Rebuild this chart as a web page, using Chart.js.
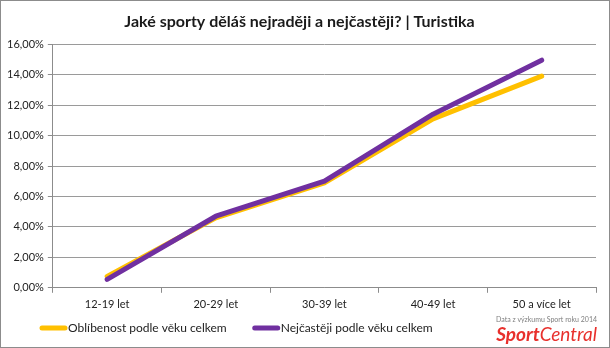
<!DOCTYPE html>
<html lang="cs">
<head>
    <meta charset="UTF-8">
    <title>Turistika</title>
    <script src="https://cdn.jsdelivr.net/npm/chart.js"></script>
    <style>
        html, body { margin: 0; padding: 0; background: #fff; }
        .frame {
            width: 610px;
            height: 348px;
            box-sizing: border-box;
            border: 1px solid #8c8c8c;
            position: relative;
        }
        #chart { display: block; }
    </style>
</head>
<body>
    <div class="frame">
        <canvas id="chart" width="608" height="346"></canvas>
    </div>

    <script>
        const ageGroups = ["12-19 let", "20-29 let", "30-39 let", "40-49 let", "50 a více let"];
        const favourite = [0.75, 4.6, 6.9, 11.1, 13.9];
        const mostOften = [0.55, 4.7, 7.0, 11.4, 14.95];
        const seriesNames = ["Oblíbenost podle věku celkem", "Nejčastěji podle věku celkem"];
        const yTicks = [0, 2, 4, 6, 8, 10, 12, 14, 16];

        const FONT = "Lato, 'Open Sans', sans-serif";

        // legend along the bottom left plus the source note on the right
        const footer = {
            id: 'footer',
            afterDraw(chart) {
                const ctx = chart.ctx;
                ctx.save();
                let x = 39;
                const y = 327;
                ctx.font = "12px " + FONT;
                ctx.textBaseline = 'middle';
                chart.data.datasets.forEach(ds => {
                    ctx.strokeStyle = ds.borderColor;
                    ctx.lineWidth = 5;
                    ctx.lineCap = 'round';
                    ctx.beginPath();
                    ctx.moveTo(x + 2, y);
                    ctx.lineTo(x + 25, y);
                    ctx.stroke();
                    ctx.fillStyle = '#222';
                    ctx.fillText(ds.label, x + 28, y);
                    x += 28 + ctx.measureText(ds.label).width + 26;
                });

                ctx.textAlign = 'right';
                ctx.fillStyle = '#808080';
                ctx.font = "7px " + FONT;
                ctx.fillText("Data z výzkumu Sport roku 2014", 596, 319);

                ctx.textBaseline = 'alphabetic';
                ctx.fillStyle = '#e8302c';
                ctx.font = "italic 19px " + FONT;
                ctx.fillText("Central", 596, 340);
                const w = ctx.measureText("Central").width;
                ctx.font = "italic bold 19px " + FONT;
                ctx.fillText("Sport", 596 - w, 340);
                ctx.restore();
            }
        };

        new Chart(document.getElementById('chart'), {
            type: 'line',
            data: {
                labels: ageGroups,
                datasets: [
                    {
                        label: seriesNames[0],
                        data: favourite,
                        borderColor: '#ffc000',
                        backgroundColor: '#ffc000',
                        order: 2
                    },
                    {
                        label: seriesNames[1],
                        data: mostOften,
                        borderColor: '#7030a0',
                        backgroundColor: '#7030a0',
                        order: 1
                    }
                ]
            },
            options: {
                responsive: false,
                animation: false,
                devicePixelRatio: 1,
                layout: { padding: { left: 2, right: 13, top: 0, bottom: 31 } },
                elements: {
                    line: { borderWidth: 5, tension: 0, borderCapStyle: 'round', borderJoinStyle: 'round' },
                    point: { radius: 0, hoverRadius: 0 }
                },
                plugins: {
                    legend: { display: false },
                    tooltip: { enabled: false },
                    title: {
                        display: true,
                        text: "Jaké sporty děláš nejraději a nejčastěji? | Turistika",
                        color: '#1a1a1a',
                        font: { family: FONT, size: 16, weight: 'bold' },
                        padding: { top: 11, bottom: 13 }
                    }
                },
                scales: {
                    x: {
                        offset: true,
                        grid: {
                            offset: true,
                            drawOnChartArea: false,
                            tickLength: 5,
                            tickColor: '#8c8c8c'
                        },
                        border: { color: '#8c8c8c' },
                        ticks: {
                            color: '#222',
                            padding: 5,
                            font: { family: FONT, size: 11 }
                        }
                    },
                    y: {
                        min: 0,
                        max: 16,
                        afterBuildTicks: axis => { axis.ticks = yTicks.map(v => ({ value: v })); },
                        grid: {
                            color: '#9a9a9a',
                            borderDash: [1, 1],
                            tickBorderDash: [],
                            tickColor: '#8c8c8c',
                            tickLength: 5
                        },
                        border: { color: '#8c8c8c' },
                        ticks: {
                            color: '#222',
                            padding: 4,
                            font: { family: FONT, size: 11 },
                            callback: v => v.toFixed(2).replace('.', ',') + '%'
                        }
                    }
                }
            },
            plugins: [footer]
        });
    </script>
</body>
</html>
